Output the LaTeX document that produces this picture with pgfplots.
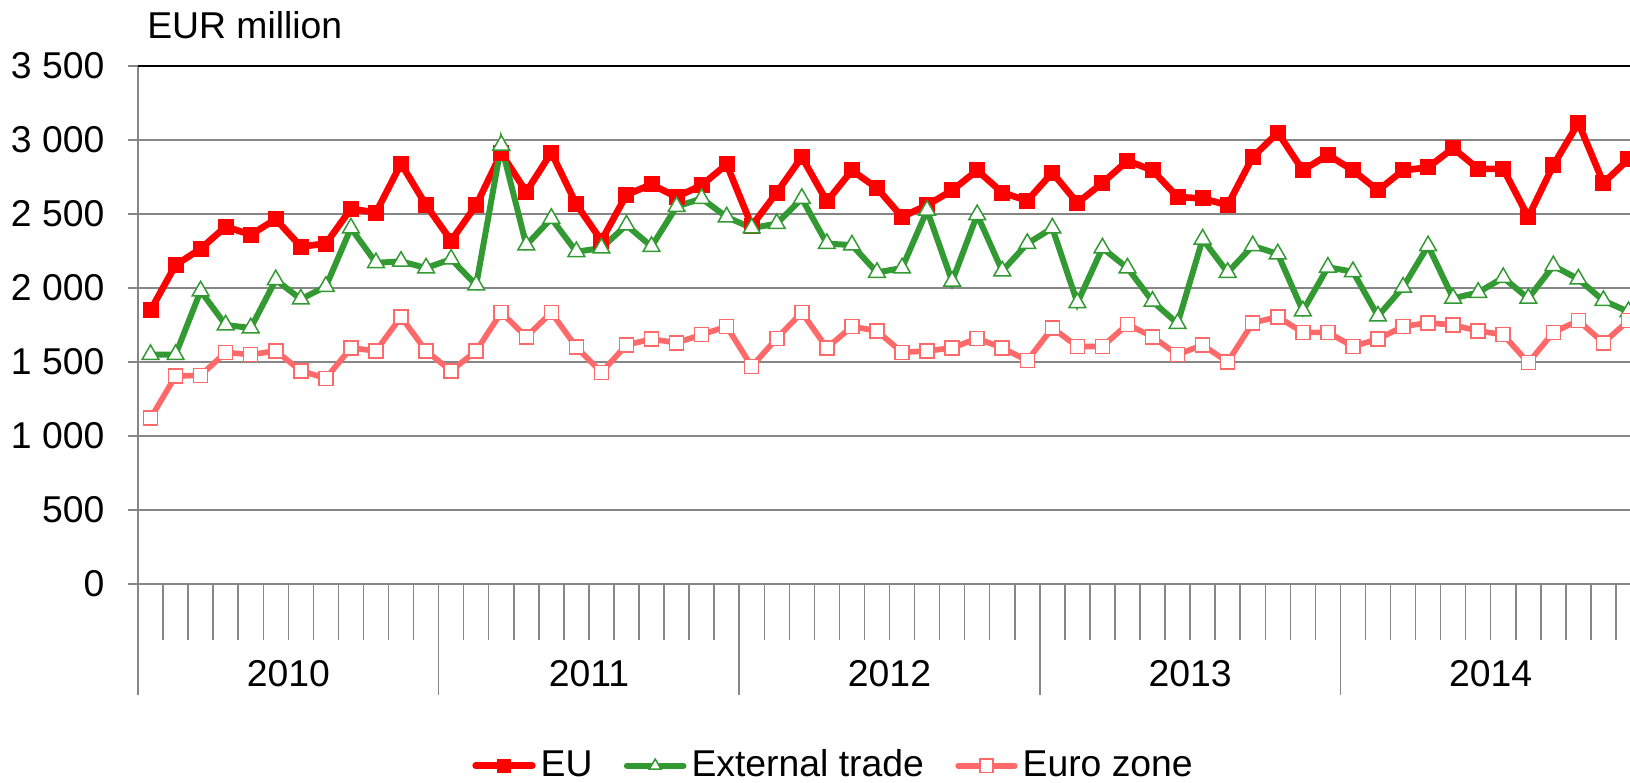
\documentclass[border=0pt]{standalone}
\usepackage{fontspec}
\setmainfont{Liberation Sans}
\usepackage{pgfplots}
\pgfplotsset{compat=1.18}
\definecolor{eured}{RGB}{255,0,0}
\definecolor{extgreen}{RGB}{51,153,51}
\definecolor{eurozone}{RGB}{255,105,105}
\definecolor{gridgray}{RGB}{134,134,134}
\newcommand{\fs}{\fontsize{11.2}{13}\selectfont}

% monthly values, Jan 2010 = 0
\pgfplotstableread{
m v
0 1850
1 2155
2 2265
3 2415
4 2360
5 2465
6 2280
7 2300
8 2535
9 2510
10 2840
11 2560
12 2320
13 2560
14 2910
15 2650
16 2915
17 2565
18 2320
19 2630
20 2700
21 2615
22 2695
23 2835
24 2420
25 2645
26 2885
27 2585
28 2795
29 2675
30 2480
31 2560
32 2660
33 2795
34 2645
35 2590
36 2780
37 2575
38 2710
39 2860
40 2795
41 2615
42 2605
43 2560
44 2885
45 3050
46 2795
47 2900
48 2795
49 2660
50 2795
51 2815
52 2945
53 2805
54 2805
55 2480
56 2830
57 3115
58 2710
59 2870
}\eu
\pgfplotstableread{
m v
0 1550
1 1550
2 1980
3 1750
4 1730
5 2055
6 1925
7 2010
8 2405
9 2170
10 2180
11 2135
12 2195
13 2020
14 2965
15 2290
16 2470
17 2245
18 2270
19 2425
20 2280
21 2550
22 2605
23 2480
24 2405
25 2435
26 2605
27 2300
28 2290
29 2105
30 2135
31 2525
32 2045
33 2495
34 2115
35 2300
36 2405
37 1900
38 2270
39 2135
40 1910
41 1760
42 2330
43 2105
44 2285
45 2230
46 1845
47 2140
48 2110
49 1810
50 2005
51 2285
52 1930
53 1970
54 2070
55 1930
56 2150
57 2060
58 1915
59 1840
}\ext
\pgfplotstableread{
m v
0 1120
1 1405
2 1410
3 1565
4 1550
5 1575
6 1440
7 1390
8 1595
9 1575
10 1805
11 1575
12 1440
13 1575
14 1835
15 1670
16 1835
17 1600
18 1430
19 1615
20 1655
21 1630
22 1685
23 1740
24 1470
25 1660
26 1835
27 1595
28 1740
29 1710
30 1565
31 1575
32 1595
33 1660
34 1595
35 1510
36 1730
37 1605
38 1605
39 1755
40 1670
41 1550
42 1615
43 1500
44 1765
45 1805
46 1700
47 1700
48 1605
49 1655
50 1740
51 1765
52 1750
53 1710
54 1685
55 1495
56 1700
57 1780
58 1630
59 1780
}\ez

\begin{document}
\begin{tikzpicture}
\useasboundingbox (0,0) rectangle (489pt,-234.9pt);
\clip (0,0) rectangle (489pt,-234.9pt);
\node[font=\fs, anchor=base west, inner sep=0pt] at (44pt,-11.5pt) {EUR million};
\begin{axis}[
  at={(41.4pt,-175.2pt)}, anchor=south west,
  scale only axis, width=450.9pt, height=155.4pt,
  xmin=-0.5, xmax=59.5, ymin=0, ymax=3500,
  axis lines=left,
  axis line style={-, gridgray, line width=0.45pt},
  ytick={0,500,...,3500},
  yticklabels={0,500,1 000,1 500,2 000,2 500,3 000,3 500},
  yticklabel style={font=\fs, anchor=east, inner sep=0pt, xshift=-6.9pt},
  ymajorgrids,
  grid style={gridgray, line width=0.45pt},
  xtick={-0.5,0.5,...,59.5}, xticklabels={},
  tick align=outside, major tick length=3pt,
  tick style={gridgray, line width=0.45pt},
  xtick style={/pgfplots/major tick length=16.8pt},
  extra x ticks={-0.5,11.5,23.5,35.5,47.5,59.5},
  extra x tick labels={},
  extra x tick style={xtick style={/pgfplots/major tick length=33.3pt}},
  clip=false,
  legend columns=3,
  legend style={at={(0.222,-0.3508)}, anchor=west, draw=none, fill=none,
    inner sep=0pt, font=\fs, nodes={inner sep=0pt},
    /tikz/every odd column/.append style={column sep=1.5pt},
    /tikz/every even column/.append style={column sep=9.4pt}},
  legend image code/.code={\draw[mark repeat=2,mark phase=2,#1]
    plot coordinates {(0pt,0pt) (8.5pt,0pt) (17pt,0pt)};},
  legend image post style={mark size=2pt, line cap=round},
]
\addplot[eured, line width=2pt, mark=square*, mark size=2.25pt,
  mark options={solid, fill=eured, draw=eured, line width=0.3pt}]
  table[x=m, y=v] {\eu};
\addlegendentry{EU}
\addplot[extgreen, line width=1.8pt, mark=triangle*, mark size=2.9pt,
  mark options={solid, fill=white, draw=extgreen, line width=0.45pt}]
  table[x=m, y=v] {\ext};
\addlegendentry{External trade}
\addplot[eurozone, line width=1.7pt, mark=square*, mark size=2.1pt,
  mark options={solid, fill=white, draw=eurozone, line width=0.45pt}]
  table[x=m, y=v] {\ez};
\addlegendentry{Euro zone}
\draw[black, line width=0.5pt] (axis cs:-0.5,3500) -- (axis cs:59.5,3500);
\node[font=\fs, anchor=base, yshift=-30.8pt] at (axis cs:5.5,0) {2010};
\node[font=\fs, anchor=base, yshift=-30.8pt] at (axis cs:17.5,0) {2011};
\node[font=\fs, anchor=base, yshift=-30.8pt] at (axis cs:29.5,0) {2012};
\node[font=\fs, anchor=base, yshift=-30.8pt] at (axis cs:41.5,0) {2013};
\node[font=\fs, anchor=base, yshift=-30.8pt] at (axis cs:53.5,0) {2014};
\end{axis}
\end{tikzpicture}
\end{document}
